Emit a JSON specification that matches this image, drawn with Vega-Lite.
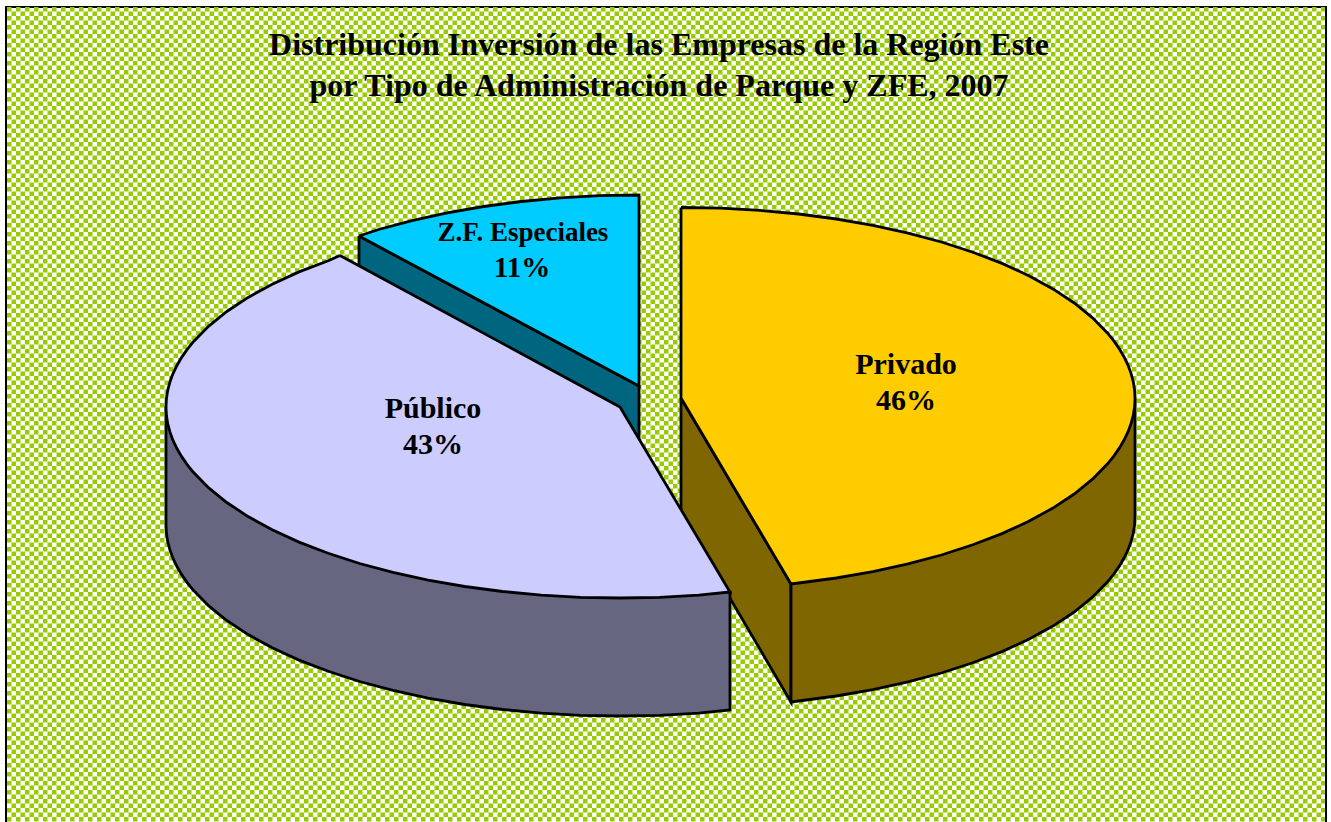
{"$schema":"https://vega.github.io/schema/vega-lite/v6.json","width":1331,"height":822,"padding":0,"autosize":{"type":"none"},"background":"white","config":{"view":{"stroke":null}},
"datasets":{
"frame":[{"x":6,"x2":1326,"y":7,"y2":830}],
"extent":[{"p":0,"x":7,"x2":1325},{"p":1,"x":7,"x2":1325}],
"checker":[{"y":9.25,"p":0},{"y":13.75,"p":1},{"y":18.25,"p":0},{"y":22.75,"p":1},{"y":27.25,"p":0},{"y":31.75,"p":1},{"y":36.25,"p":0},{"y":40.75,"p":1},{"y":45.25,"p":0},{"y":49.75,"p":1},{"y":54.25,"p":0},{"y":58.75,"p":1},{"y":63.25,"p":0},{"y":67.75,"p":1},{"y":72.25,"p":0},{"y":76.75,"p":1},{"y":81.25,"p":0},{"y":85.75,"p":1},{"y":90.25,"p":0},{"y":94.75,"p":1},{"y":99.25,"p":0},{"y":103.75,"p":1},{"y":108.25,"p":0},{"y":112.75,"p":1},{"y":117.25,"p":0},{"y":121.75,"p":1},{"y":126.25,"p":0},{"y":130.75,"p":1},{"y":135.25,"p":0},{"y":139.75,"p":1},{"y":144.25,"p":0},{"y":148.75,"p":1},{"y":153.25,"p":0},{"y":157.75,"p":1},{"y":162.25,"p":0},{"y":166.75,"p":1},{"y":171.25,"p":0},{"y":175.75,"p":1},{"y":180.25,"p":0},{"y":184.75,"p":1},{"y":189.25,"p":0},{"y":193.75,"p":1},{"y":198.25,"p":0},{"y":202.75,"p":1},{"y":207.25,"p":0},{"y":211.75,"p":1},{"y":216.25,"p":0},{"y":220.75,"p":1},{"y":225.25,"p":0},{"y":229.75,"p":1},{"y":234.25,"p":0},{"y":238.75,"p":1},{"y":243.25,"p":0},{"y":247.75,"p":1},{"y":252.25,"p":0},{"y":256.75,"p":1},{"y":261.25,"p":0},{"y":265.75,"p":1},{"y":270.25,"p":0},{"y":274.75,"p":1},{"y":279.25,"p":0},{"y":283.75,"p":1},{"y":288.25,"p":0},{"y":292.75,"p":1},{"y":297.25,"p":0},{"y":301.75,"p":1},{"y":306.25,"p":0},{"y":310.75,"p":1},{"y":315.25,"p":0},{"y":319.75,"p":1},{"y":324.25,"p":0},{"y":328.75,"p":1},{"y":333.25,"p":0},{"y":337.75,"p":1},{"y":342.25,"p":0},{"y":346.75,"p":1},{"y":351.25,"p":0},{"y":355.75,"p":1},{"y":360.25,"p":0},{"y":364.75,"p":1},{"y":369.25,"p":0},{"y":373.75,"p":1},{"y":378.25,"p":0},{"y":382.75,"p":1},{"y":387.25,"p":0},{"y":391.75,"p":1},{"y":396.25,"p":0},{"y":400.75,"p":1},{"y":405.25,"p":0},{"y":409.75,"p":1},{"y":414.25,"p":0},{"y":418.75,"p":1},{"y":423.25,"p":0},{"y":427.75,"p":1},{"y":432.25,"p":0},{"y":436.75,"p":1},{"y":441.25,"p":0},{"y":445.75,"p":1},{"y":450.25,"p":0},{"y":454.75,"p":1},{"y":459.25,"p":0},{"y":463.75,"p":1},{"y":468.25,"p":0},{"y":472.75,"p":1},{"y":477.25,"p":0},{"y":481.75,"p":1},{"y":486.25,"p":0},{"y":490.75,"p":1},{"y":495.25,"p":0},{"y":499.75,"p":1},{"y":504.25,"p":0},{"y":508.75,"p":1},{"y":513.25,"p":0},{"y":517.75,"p":1},{"y":522.25,"p":0},{"y":526.75,"p":1},{"y":531.25,"p":0},{"y":535.75,"p":1},{"y":540.25,"p":0},{"y":544.75,"p":1},{"y":549.25,"p":0},{"y":553.75,"p":1},{"y":558.25,"p":0},{"y":562.75,"p":1},{"y":567.25,"p":0},{"y":571.75,"p":1},{"y":576.25,"p":0},{"y":580.75,"p":1},{"y":585.25,"p":0},{"y":589.75,"p":1},{"y":594.25,"p":0},{"y":598.75,"p":1},{"y":603.25,"p":0},{"y":607.75,"p":1},{"y":612.25,"p":0},{"y":616.75,"p":1},{"y":621.25,"p":0},{"y":625.75,"p":1},{"y":630.25,"p":0},{"y":634.75,"p":1},{"y":639.25,"p":0},{"y":643.75,"p":1},{"y":648.25,"p":0},{"y":652.75,"p":1},{"y":657.25,"p":0},{"y":661.75,"p":1},{"y":666.25,"p":0},{"y":670.75,"p":1},{"y":675.25,"p":0},{"y":679.75,"p":1},{"y":684.25,"p":0},{"y":688.75,"p":1},{"y":693.25,"p":0},{"y":697.75,"p":1},{"y":702.25,"p":0},{"y":706.75,"p":1},{"y":711.25,"p":0},{"y":715.75,"p":1},{"y":720.25,"p":0},{"y":724.75,"p":1},{"y":729.25,"p":0},{"y":733.75,"p":1},{"y":738.25,"p":0},{"y":742.75,"p":1},{"y":747.25,"p":0},{"y":751.75,"p":1},{"y":756.25,"p":0},{"y":760.75,"p":1},{"y":765.25,"p":0},{"y":769.75,"p":1},{"y":774.25,"p":0},{"y":778.75,"p":1},{"y":783.25,"p":0},{"y":787.75,"p":1},{"y":792.25,"p":0},{"y":796.75,"p":1},{"y":801.25,"p":0},{"y":805.75,"p":1},{"y":810.25,"p":0},{"y":814.75,"p":1},{"y":819.25,"p":0}],
"outline":[
{"part":"zf_side","i":1,"x":359,"y":236},{"part":"zf_side","i":2,"x":359,"y":354},{"part":"zf_side","i":3,"x":639,"y":503},{"part":"zf_side","i":4,"x":639,"y":386},{"part":"zf_side","i":5,"x":359,"y":236},
{"part":"zf_top","i":1,"x":359,"y":236},{"part":"zf_top","i":2,"x":378.6,"y":229.5},{"part":"zf_top","i":3,"x":412,"y":220.6},{"part":"zf_top","i":4,"x":447.1,"y":212.9},{"part":"zf_top","i":5,"x":483.7,"y":206.5},{"part":"zf_top","i":6,"x":521.5,"y":201.5},{"part":"zf_top","i":7,"x":560.2,"y":197.9},{"part":"zf_top","i":8,"x":599.4,"y":195.7},{"part":"zf_top","i":9,"x":639,"y":195},{"part":"zf_top","i":10,"x":639,"y":386},{"part":"zf_top","i":11,"x":359,"y":236},
{"part":"priv_cut","i":1,"x":681,"y":398},{"part":"priv_cut","i":2,"x":681,"y":515},{"part":"priv_cut","i":3,"x":791,"y":702},{"part":"priv_cut","i":4,"x":791,"y":584},{"part":"priv_cut","i":5,"x":681,"y":398},
{"part":"priv_side","i":1,"x":1135,"y":398.5},{"part":"priv_side","i":2,"x":1135,"y":516.5},{"part":"priv_side","i":3,"x":1134.6,"y":524.8},{"part":"priv_side","i":4,"x":1133.3,"y":533.1},{"part":"priv_side","i":5,"x":1131.1,"y":541.4},{"part":"priv_side","i":6,"x":1128.1,"y":549.7},{"part":"priv_side","i":7,"x":1124.2,"y":557.8},{"part":"priv_side","i":8,"x":1119.5,"y":565.9},{"part":"priv_side","i":9,"x":1114,"y":573.9},{"part":"priv_side","i":10,"x":1107.6,"y":581.8},{"part":"priv_side","i":11,"x":1092.5,"y":597.2},{"part":"priv_side","i":12,"x":1074.2,"y":612},{"part":"priv_side","i":13,"x":1052.9,"y":626.1},{"part":"priv_side","i":14,"x":1028.8,"y":639.3},{"part":"priv_side","i":15,"x":1002,"y":651.6},{"part":"priv_side","i":16,"x":972.8,"y":662.8},{"part":"priv_side","i":17,"x":941.4,"y":673},{"part":"priv_side","i":18,"x":908,"y":681.9},{"part":"priv_side","i":19,"x":872.9,"y":689.6},{"part":"priv_side","i":20,"x":836.3,"y":696},{"part":"priv_side","i":21,"x":798.5,"y":701},{"part":"priv_side","i":22,"x":791,"y":702},{"part":"priv_side","i":23,"x":791,"y":584},{"part":"priv_side","i":24,"x":1135,"y":398.5},
{"part":"priv_top","i":1,"x":681,"y":207.5},{"part":"priv_top","i":2,"x":720.6,"y":208.2},{"part":"priv_top","i":3,"x":759.8,"y":210.4},{"part":"priv_top","i":4,"x":798.5,"y":214},{"part":"priv_top","i":5,"x":836.3,"y":219},{"part":"priv_top","i":6,"x":872.9,"y":225.4},{"part":"priv_top","i":7,"x":908,"y":233.1},{"part":"priv_top","i":8,"x":941.4,"y":242},{"part":"priv_top","i":9,"x":972.8,"y":252.2},{"part":"priv_top","i":10,"x":1002,"y":263.4},{"part":"priv_top","i":11,"x":1028.8,"y":275.7},{"part":"priv_top","i":12,"x":1052.9,"y":288.9},{"part":"priv_top","i":13,"x":1074.2,"y":303},{"part":"priv_top","i":14,"x":1092.5,"y":317.8},{"part":"priv_top","i":15,"x":1107.6,"y":333.2},{"part":"priv_top","i":16,"x":1114,"y":341.1},{"part":"priv_top","i":17,"x":1119.5,"y":349.1},{"part":"priv_top","i":18,"x":1124.2,"y":357.2},{"part":"priv_top","i":19,"x":1128.1,"y":365.3},{"part":"priv_top","i":20,"x":1131.1,"y":373.6},{"part":"priv_top","i":21,"x":1133.3,"y":381.9},{"part":"priv_top","i":22,"x":1134.6,"y":390.2},{"part":"priv_top","i":23,"x":1135,"y":398.5},{"part":"priv_top","i":24,"x":1134.6,"y":406.8},{"part":"priv_top","i":25,"x":1133.3,"y":415.1},{"part":"priv_top","i":26,"x":1131.1,"y":423.4},{"part":"priv_top","i":27,"x":1128.1,"y":431.7},{"part":"priv_top","i":28,"x":1124.2,"y":439.8},{"part":"priv_top","i":29,"x":1119.5,"y":447.9},{"part":"priv_top","i":30,"x":1114,"y":455.9},{"part":"priv_top","i":31,"x":1107.6,"y":463.8},{"part":"priv_top","i":32,"x":1092.5,"y":479.2},{"part":"priv_top","i":33,"x":1074.2,"y":494},{"part":"priv_top","i":34,"x":1052.9,"y":508.1},{"part":"priv_top","i":35,"x":1028.8,"y":521.3},{"part":"priv_top","i":36,"x":1002,"y":533.6},{"part":"priv_top","i":37,"x":972.8,"y":544.8},{"part":"priv_top","i":38,"x":941.4,"y":555},{"part":"priv_top","i":39,"x":908,"y":563.9},{"part":"priv_top","i":40,"x":872.9,"y":571.6},{"part":"priv_top","i":41,"x":836.3,"y":578},{"part":"priv_top","i":42,"x":798.5,"y":583},{"part":"priv_top","i":43,"x":791,"y":584},{"part":"priv_top","i":44,"x":681,"y":398},{"part":"priv_top","i":45,"x":681,"y":207.5},
{"part":"pub_side","i":1,"x":166,"y":407},{"part":"pub_side","i":2,"x":166,"y":525},{"part":"pub_side","i":3,"x":166.4,"y":533.3},{"part":"pub_side","i":4,"x":167.7,"y":541.6},{"part":"pub_side","i":5,"x":169.9,"y":549.9},{"part":"pub_side","i":6,"x":172.9,"y":558.2},{"part":"pub_side","i":7,"x":176.8,"y":566.3},{"part":"pub_side","i":8,"x":181.5,"y":574.4},{"part":"pub_side","i":9,"x":187,"y":582.4},{"part":"pub_side","i":10,"x":193.4,"y":590.3},{"part":"pub_side","i":11,"x":208.5,"y":605.7},{"part":"pub_side","i":12,"x":226.8,"y":620.5},{"part":"pub_side","i":13,"x":248.1,"y":634.6},{"part":"pub_side","i":14,"x":272.2,"y":647.8},{"part":"pub_side","i":15,"x":299,"y":660.1},{"part":"pub_side","i":16,"x":328.2,"y":671.3},{"part":"pub_side","i":17,"x":359.6,"y":681.5},{"part":"pub_side","i":18,"x":393,"y":690.4},{"part":"pub_side","i":19,"x":428.1,"y":698.1},{"part":"pub_side","i":20,"x":464.7,"y":704.5},{"part":"pub_side","i":21,"x":502.5,"y":709.5},{"part":"pub_side","i":22,"x":541.2,"y":713.1},{"part":"pub_side","i":23,"x":580.4,"y":715.3},{"part":"pub_side","i":24,"x":620,"y":716},{"part":"pub_side","i":25,"x":659.6,"y":715.3},{"part":"pub_side","i":26,"x":698.8,"y":713.1},{"part":"pub_side","i":27,"x":730,"y":710},{"part":"pub_side","i":28,"x":730,"y":592},{"part":"pub_side","i":29,"x":166,"y":407},
{"part":"pub_top","i":1,"x":340,"y":255.5},{"part":"pub_top","i":2,"x":328.2,"y":260.7},{"part":"pub_top","i":3,"x":299,"y":271.9},{"part":"pub_top","i":4,"x":272.2,"y":284.2},{"part":"pub_top","i":5,"x":248.1,"y":297.4},{"part":"pub_top","i":6,"x":226.8,"y":311.5},{"part":"pub_top","i":7,"x":208.5,"y":326.3},{"part":"pub_top","i":8,"x":193.4,"y":341.7},{"part":"pub_top","i":9,"x":187,"y":349.6},{"part":"pub_top","i":10,"x":181.5,"y":357.6},{"part":"pub_top","i":11,"x":176.8,"y":365.7},{"part":"pub_top","i":12,"x":172.9,"y":373.8},{"part":"pub_top","i":13,"x":169.9,"y":382.1},{"part":"pub_top","i":14,"x":167.7,"y":390.4},{"part":"pub_top","i":15,"x":166.4,"y":398.7},{"part":"pub_top","i":16,"x":166,"y":407},{"part":"pub_top","i":17,"x":166.4,"y":415.3},{"part":"pub_top","i":18,"x":167.7,"y":423.6},{"part":"pub_top","i":19,"x":169.9,"y":431.9},{"part":"pub_top","i":20,"x":172.9,"y":440.2},{"part":"pub_top","i":21,"x":176.8,"y":448.3},{"part":"pub_top","i":22,"x":181.5,"y":456.4},{"part":"pub_top","i":23,"x":187,"y":464.4},{"part":"pub_top","i":24,"x":193.4,"y":472.3},{"part":"pub_top","i":25,"x":208.5,"y":487.7},{"part":"pub_top","i":26,"x":226.8,"y":502.5},{"part":"pub_top","i":27,"x":248.1,"y":516.6},{"part":"pub_top","i":28,"x":272.2,"y":529.8},{"part":"pub_top","i":29,"x":299,"y":542.1},{"part":"pub_top","i":30,"x":328.2,"y":553.3},{"part":"pub_top","i":31,"x":359.6,"y":563.5},{"part":"pub_top","i":32,"x":393,"y":572.4},{"part":"pub_top","i":33,"x":428.1,"y":580.1},{"part":"pub_top","i":34,"x":464.7,"y":586.5},{"part":"pub_top","i":35,"x":502.5,"y":591.5},{"part":"pub_top","i":36,"x":541.2,"y":595.1},{"part":"pub_top","i":37,"x":580.4,"y":597.3},{"part":"pub_top","i":38,"x":620,"y":598},{"part":"pub_top","i":39,"x":659.6,"y":597.3},{"part":"pub_top","i":40,"x":698.8,"y":595.1},{"part":"pub_top","i":41,"x":730,"y":592},{"part":"pub_top","i":42,"x":620,"y":407},{"part":"pub_top","i":43,"x":340,"y":255.5}
],
"labels":[
{"t":"Distribución Inversión de las Empresas de la Región Este","x":659,"y":45,"s":32},
{"t":"por Tipo de Administración de Parque y ZFE, 2007","x":659,"y":86,"s":32},
{"t":"Privado","x":906,"y":365,"s":30},{"t":"46%","x":906,"y":401,"s":30},
{"t":"Público","x":433,"y":409,"s":30},{"t":"43%","x":433,"y":445,"s":30},
{"t":"Z.F. Especiales","x":523,"y":233,"s":27},{"t":"11%","x":522,"y":268,"s":29}
]},
"encoding":{"x":{"field":"x","type":"quantitative","axis":null,"scale":{"domain":[0,1331],"nice":false,"zero":false}},"y":{"field":"y","type":"quantitative","axis":null,"scale":{"domain":[822,0],"nice":false,"zero":false}}},
"layer":[
{"data":{"name":"frame"},"mark":{"type":"rect","fill":"white","stroke":"black","strokeWidth":2},"encoding":{"x2":{"field":"x2"},"y2":{"field":"y2"}}},
{"data":{"name":"checker"},"transform":[{"filter":"datum.p==0"},{"lookup":"p","from":{"data":{"name":"extent"},"key":"p","fields":["x","x2"]}}],"mark":{"type":"rule","stroke":"#99CC00","strokeWidth":4.5,"strokeDash":[4.5,4.5],"strokeDashOffset":0},"encoding":{"x2":{"field":"x2"}}},
{"data":{"name":"checker"},"transform":[{"filter":"datum.p==1"},{"lookup":"p","from":{"data":{"name":"extent"},"key":"p","fields":["x","x2"]}}],"mark":{"type":"rule","stroke":"#99CC00","strokeWidth":4.5,"strokeDash":[4.5,4.5],"strokeDashOffset":4.5},"encoding":{"x2":{"field":"x2"}}},
{"data":{"name":"outline"},"mark":{"type":"line","stroke":"black","strokeWidth":2.8,"strokeJoin":"miter","clip":false},"encoding":{"detail":{"field":"part"},"order":{"field":"i","type":"quantitative"},"fill":{"field":"part","type":"nominal","legend":null,"scale":{"domain":["zf_side","zf_top","priv_cut","priv_side","priv_top","pub_side","pub_top"],"range":["#006680","#00CCFF","#806600","#806600","#FFCC00","#666680","#CCCCFF"]}}}},
{"data":{"name":"labels"},"mark":{"type":"text","font":"Liberation Serif","fontWeight":"bold","color":"black","align":"center","baseline":"middle"},"encoding":{"text":{"field":"t"},"size":{"field":"s","type":"quantitative","scale":null}}}
]}
